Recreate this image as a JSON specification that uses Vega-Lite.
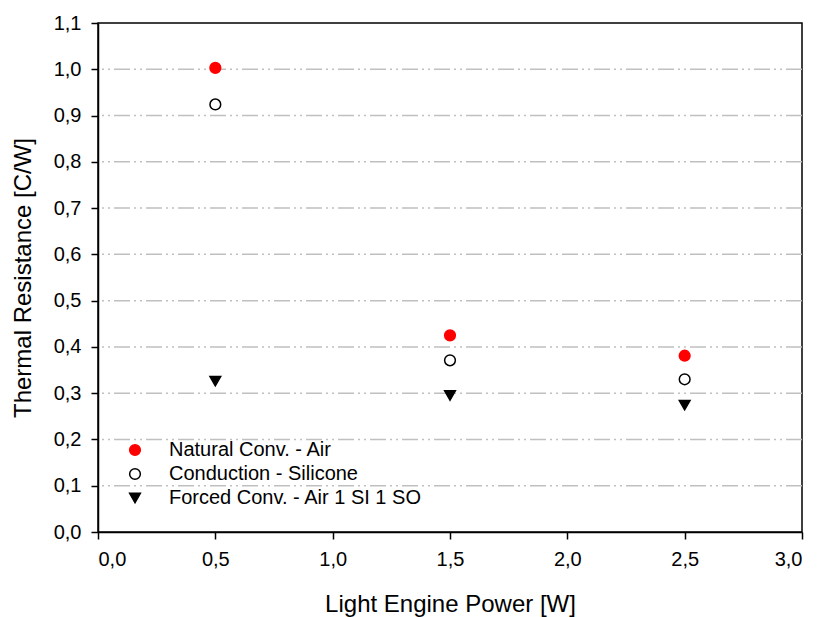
{
  "$schema": "https://vega.github.io/schema/vega-lite/v6.json",
  "width": 704,
  "height": 509,
  "autosize": {"type": "none"},
  "padding": {"left": 98, "top": 23, "right": 16, "bottom": 85},
  "background": "white",
  "config": {
    "font": "Liberation Sans",
    "view": {"stroke": "black", "strokeWidth": 1.5}
  },
  "data": {
    "values": [
      {"power": 0.5, "resistance": 1.003, "series": "Natural Conv. - Air"},
      {"power": 1.5, "resistance": 0.425, "series": "Natural Conv. - Air"},
      {"power": 2.5, "resistance": 0.381, "series": "Natural Conv. - Air"},
      {"power": 0.5, "resistance": 0.924, "series": "Conduction - Silicone"},
      {"power": 1.5, "resistance": 0.371, "series": "Conduction - Silicone"},
      {"power": 2.5, "resistance": 0.330, "series": "Conduction - Silicone"},
      {"power": 0.5, "resistance": 0.326, "series": "Forced Conv. - Air 1 SI 1 SO"},
      {"power": 1.5, "resistance": 0.295, "series": "Forced Conv. - Air 1 SI 1 SO"},
      {"power": 2.5, "resistance": 0.274, "series": "Forced Conv. - Air 1 SI 1 SO"}
    ]
  },
  "layer": [
    {
      "mark": {"type": "rule", "color": "#c0c0c0", "strokeWidth": 1.5, "strokeDash": [16, 4, 2, 4, 2, 4]},
      "data": {"values": [{"g": 0.1}, {"g": 0.2}, {"g": 0.3}, {"g": 0.4}, {"g": 0.5}, {"g": 0.6}, {"g": 0.7}, {"g": 0.8}, {"g": 0.9}, {"g": 1.0}]},
      "encoding": {
        "y": {
          "field": "g", "type": "quantitative",
          "scale": {"domain": [0, 1.1], "nice": false},
          "axis": {
            "values": [0, 0.1, 0.2, 0.3, 0.4, 0.5, 0.6, 0.7, 0.8, 0.9, 1.0, 1.1],
            "grid": false,
            "domainColor": "black", "domainWidth": 1.5,
            "tickColor": "black", "tickWidth": 1.5, "tickSize": 7,
            "labelExpr": "replace(format(datum.value, '.1f'), '.', ',')",
            "labelFont": "Liberation Sans", "labelFontSize": 20, "labelColor": "black",
            "labelPadding": 10,
            "title": "Thermal Resistance [C/W]",
            "titleFont": "Liberation Sans", "titleFontSize": 24, "titleFontWeight": "normal", "titleColor": "black",
            "titlePadding": 18
          }
        }
      }
    },
    {
      "mark": {"type": "point", "size": 115, "strokeWidth": 1.5, "opacity": 1},
      "encoding": {
        "x": {
          "field": "power", "type": "quantitative",
          "scale": {"domain": [0, 3], "nice": false},
          "axis": {
            "values": [0, 0.5, 1, 1.5, 2, 2.5, 3],
            "grid": false,
            "domainColor": "black", "domainWidth": 1.5,
            "tickColor": "black", "tickWidth": 1.5, "tickSize": 7,
            "labelExpr": "replace(format(datum.value, '.1f'), '.', ',')",
            "labelFont": "Liberation Sans", "labelFontSize": 20, "labelColor": "black",
            "labelPadding": 10,
            "title": "Light Engine Power [W]",
            "titleFont": "Liberation Sans", "titleFontSize": 24, "titleFontWeight": "normal", "titleColor": "black",
            "titlePadding": 23
          }
        },
        "y": {
          "field": "resistance", "type": "quantitative",
          "scale": {"domain": [0, 1.1], "nice": false},
          "axis": {
            "values": [0, 0.1, 0.2, 0.3, 0.4, 0.5, 0.6, 0.7, 0.8, 0.9, 1.0, 1.1],
            "grid": false,
            "domainColor": "black", "domainWidth": 1.5,
            "tickColor": "black", "tickWidth": 1.5, "tickSize": 7,
            "labelExpr": "replace(format(datum.value, '.1f'), '.', ',')",
            "labelFont": "Liberation Sans", "labelFontSize": 20, "labelColor": "black",
            "labelPadding": 10,
            "title": "Thermal Resistance [C/W]",
            "titleFont": "Liberation Sans", "titleFontSize": 24, "titleFontWeight": "normal", "titleColor": "black",
            "titlePadding": 18
          }
        },
        "shape": {
          "field": "series", "type": "nominal",
          "scale": {
            "domain": ["Natural Conv. - Air", "Conduction - Silicone", "Forced Conv. - Air 1 SI 1 SO"],
            "range": ["circle", "circle", "triangle-down"]
          },
          "legend": {
            "title": null,
            "orient": "none",
            "legendX": 27,
            "legendY": 417,
            "labelFont": "Liberation Sans",
            "labelFontSize": 20,
            "labelColor": "black",
            "labelLimit": 400,
            "labelOffset": 24,
            "rowPadding": 4,
            "symbolSize": 115,
            "symbolStrokeWidth": 1.5
          }
        },
        "fill": {
          "field": "series", "type": "nominal",
          "scale": {
            "domain": ["Natural Conv. - Air", "Conduction - Silicone", "Forced Conv. - Air 1 SI 1 SO"],
            "range": ["#ff0000", "white", "black"]
          },
          "legend": null
        },
        "stroke": {
          "field": "series", "type": "nominal",
          "scale": {
            "domain": ["Natural Conv. - Air", "Conduction - Silicone", "Forced Conv. - Air 1 SI 1 SO"],
            "range": ["#ff0000", "black", "black"]
          },
          "legend": null
        }
      }
    }
  ]
}
